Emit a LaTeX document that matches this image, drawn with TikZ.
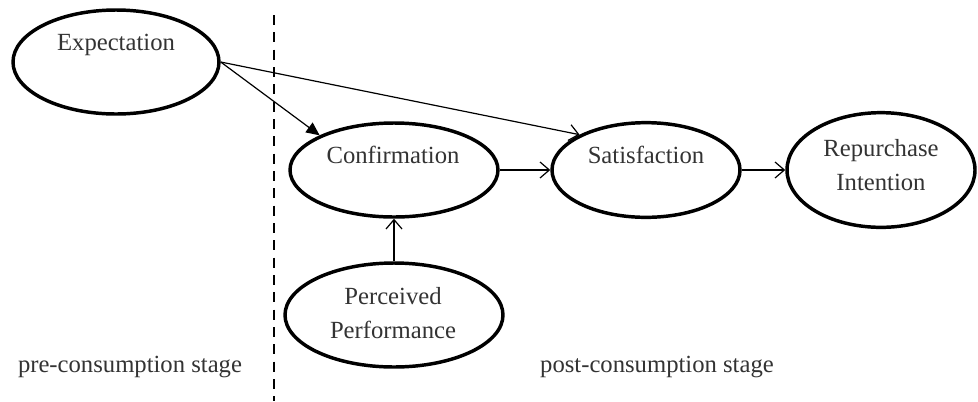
\documentclass[tikz,border=0pt]{standalone}
\usepackage{fontspec}
\setmainfont{Liberation Serif}
\usepackage{tikz}
\usetikzlibrary{shapes.geometric}
\usetikzlibrary{arrows.meta}
\tikzset{oval/.style={draw, ellipse, line width=2.6pt, inner sep=0pt},
 lbl/.style={font=\fontsize{18.5}{25}\selectfont, align=center, text=black!80},
 open/.style={line width=0.9pt, -{Straight Barb[length=7pt,width=12pt,line width=0.9pt]}},
 filled/.style={line width=0.9pt, -{Triangle[length=10pt,width=9pt]}},
 }

\begin{document}
\begin{tikzpicture}[x=0.75pt, y=-0.75pt]
        \useasboundingbox (0, 0) rectangle (978, 401);

        \node[oval, minimum width=154.5pt, minimum height=78pt] (expect) at (116, 62) {};
        \node[lbl] (expecttxt) at (116, 45) {Expectation};

        \node[oval, minimum width=156pt, minimum height=70.5pt] (confirm) at (394, 170) {};
        \node[lbl] (confirmtxt) at (393, 155) {Confirmation};

        \node[oval, minimum width=141pt, minimum height=71pt] (satis) at (646, 170) {};
        \node[lbl] (satistxt) at (646, 155) {Satisfaction};

        \node[oval, minimum width=141pt, minimum height=86pt] (repur) at (881, 170) {};
        \node[lbl] (repurtxt) at (881, 165) {Repurchase\\Intention};

        \node[oval, minimum width=163.5pt, minimum height=78pt] (perf) at (394, 315) {};
        \node[lbl] (perftxt) at (393, 313) {Perceived\\Performance};

        \draw[filled] (expect.east) -- (confirm.155);
        \draw[open] (expect.east) -- (satis.152);
        \draw[open] (confirm.east) -- (satis.west);
        \draw[open] (satis.east) -- (repur.west);
        \draw[open] (perf.north) -- (confirm.south);

        \coordinate (dtop) at (274, 15);
        \coordinate (dbot) at (274, 401);
        \draw[line width=1.6pt, dash pattern=on 7.5pt off 5.5pt] (dtop) -- (dbot);

        \node[lbl] (pre) at (130, 367) {pre-consumption stage};
        \node[lbl] (post) at (657, 367) {post-consumption stage};
    \end{tikzpicture}
\end{document}
